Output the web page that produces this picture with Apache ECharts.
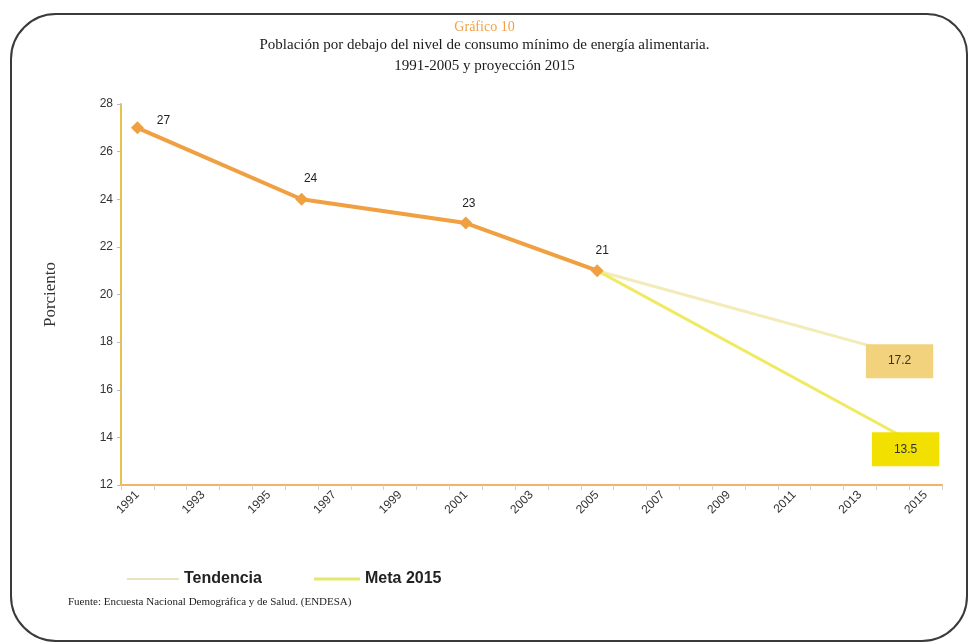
<!DOCTYPE html>
<html>
<head>
<meta charset="utf-8">
<script src="https://cdn.jsdelivr.net/npm/echarts@6/dist/echarts.min.js"></script>
<style>
html,body{margin:0;padding:0;background:#fff;}
#c{width:969px;height:642px;}
</style>
</head>
<body>
<div id="c"></div>
<script>
// ---- data ----
var years = [];
for (var y = 1991; y <= 2015; y++) years.push(String(y));
var observedYears = ['1991', '1996', '2001', '2005'];
var observedValues = [27, 24, 23, 21];
var tendenciaYears = ['2005', '2015'];
var tendenciaValues = [21, 17.2];
var metaYears = ['2005', '2015'];
var metaValues = [21, 13.5];

// ---- styles ----
var obsLabelOffsets = [[26, 10], [9, -3], [3, -2], [5, -3]];
var serif = '"Liberation Serif", "DejaVu Serif", serif';
var sans = '"Liberation Sans", Arial, sans-serif';

var chart = echarts.init(document.getElementById('c'), null, {renderer: 'canvas'});

var obsData = observedYears.map(function (yr, i) {
  return {value: [yr, observedValues[i]], label: {offset: obsLabelOffsets[i]}};
});
function projData(yrs, vals) {
  return yrs.map(function (yr, i) {
    return {value: [yr, vals[i]], label: {show: i === yrs.length - 1}};
  });
}
var tendData = projData(tendenciaYears, tendenciaValues);
var metaData = projData(metaYears, metaValues);

var option = {
  animation: false,
  backgroundColor: '#ffffff',
  title: [
    {text: 'Gráfico 10', left: 'center', top: 15,
     textStyle: {fontFamily: serif, fontSize: 14, fontWeight: 'normal', color: '#EFA24A'}},
    {text: 'Población por debajo del nivel de consumo mínimo de energía alimentaria.',
     left: 'center', top: 33,
     textStyle: {fontFamily: serif, fontSize: 15, fontWeight: 'normal', color: '#1a1a1a'}},
    {text: '1991-2005 y proyección 2015',
     left: 'center', top: 54,
     textStyle: {fontFamily: serif, fontSize: 15, fontWeight: 'normal', color: '#1a1a1a'}}
  ],
  grid: {left: 121, right: 27, top: 104, bottom: 157},
  legend: [
    {left: 122, top: 566, itemWidth: 52, itemHeight: 2, icon: 'rect',
     data: [{name: 'Tendencia', itemStyle: {color: '#E9E2BE', opacity: 1}}],
     textStyle: {fontFamily: sans, fontSize: 16, fontWeight: 'bold', color: '#222'}},
    {left: 309, top: 566, itemWidth: 46, itemHeight: 3, icon: 'rect',
     data: [{name: 'Meta 2015', itemStyle: {color: '#E4E86A', opacity: 1}}],
     textStyle: {fontFamily: sans, fontSize: 16, fontWeight: 'bold', color: '#222'}}
  ],
  xAxis: {
    type: 'category',
    data: years,
    boundaryGap: true,
    axisLine: {lineStyle: {color: '#F2B36A', width: 2}},
    axisTick: {show: true, interval: 0, length: 5, lineStyle: {color: '#d8d0c0'}},
    axisLabel: {interval: 1, rotate: 45, fontFamily: sans, fontSize: 12, color: '#333', margin: 8},
    splitLine: {show: false}
  },
  yAxis: {
    type: 'value',
    min: 12, max: 28, interval: 2,
    name: 'Porciento',
    nameLocation: 'middle',
    nameGap: 62,
    nameRotate: 90,
    nameTextStyle: {fontFamily: serif, fontSize: 17, color: '#333'},
    axisLine: {show: true, lineStyle: {color: '#E9C24E', width: 2}},
    axisTick: {show: true, length: 4, lineStyle: {color: '#bbb'}},
    axisLabel: {fontFamily: sans, fontSize: 12, color: '#333', margin: 8},
    splitLine: {show: false}
  },
  series: [
    {
      name: 'Tendencia', type: 'line', data: tendData, z: 2,
      symbol: 'circle', symbolSize: 2, showSymbol: true,
      lineStyle: {color: '#F3EBB8', width: 3},
      itemStyle: {color: 'rgba(255,255,255,0)'},
      label: {position: 'inside', offset: [-26, 0], formatter: function (p) { return p.value[1]; },
        backgroundColor: '#F2D27C', padding: [11, 22], fontFamily: sans, fontSize: 12, color: '#333'}
    },
    {
      name: 'Meta 2015', type: 'line', data: metaData, z: 3,
      symbol: 'circle', symbolSize: 2, showSymbol: true,
      lineStyle: {color: '#F0EA62', width: 3},
      itemStyle: {color: 'rgba(255,255,255,0)'},
      label: {position: 'inside', offset: [-20, 0], formatter: function (p) { return p.value[1]; },
        backgroundColor: '#F2E000', padding: [11, 22], fontFamily: sans, fontSize: 12, color: '#333'}
    },
    {
      name: 'Observado', type: 'line', data: obsData, z: 5,
      symbol: 'diamond', symbolSize: 13,
      lineStyle: {color: '#F0A040', width: 4},
      itemStyle: {color: '#F0A040'},
      label: {show: true, position: 'top', fontFamily: sans, fontSize: 12, color: '#222',
        formatter: function (p) { return p.value[1]; }}
    }
  ],
  graphic: [
    {type: 'rect', shape: {x: 11, y: 14, width: 956, height: 627, r: [45, 40, 45, 45]},
     style: {fill: 'none', stroke: '#3a3a3a', lineWidth: 2}, z: 100},
    {type: 'text', left: 68, top: 597,
     style: {text: 'Fuente: Encuesta Nacional Demográfica y de Salud. (ENDESA)', font: '11px ' + serif, fill: '#222'}}
  ]
};
chart.setOption(option);
</script>
</body>
</html>
